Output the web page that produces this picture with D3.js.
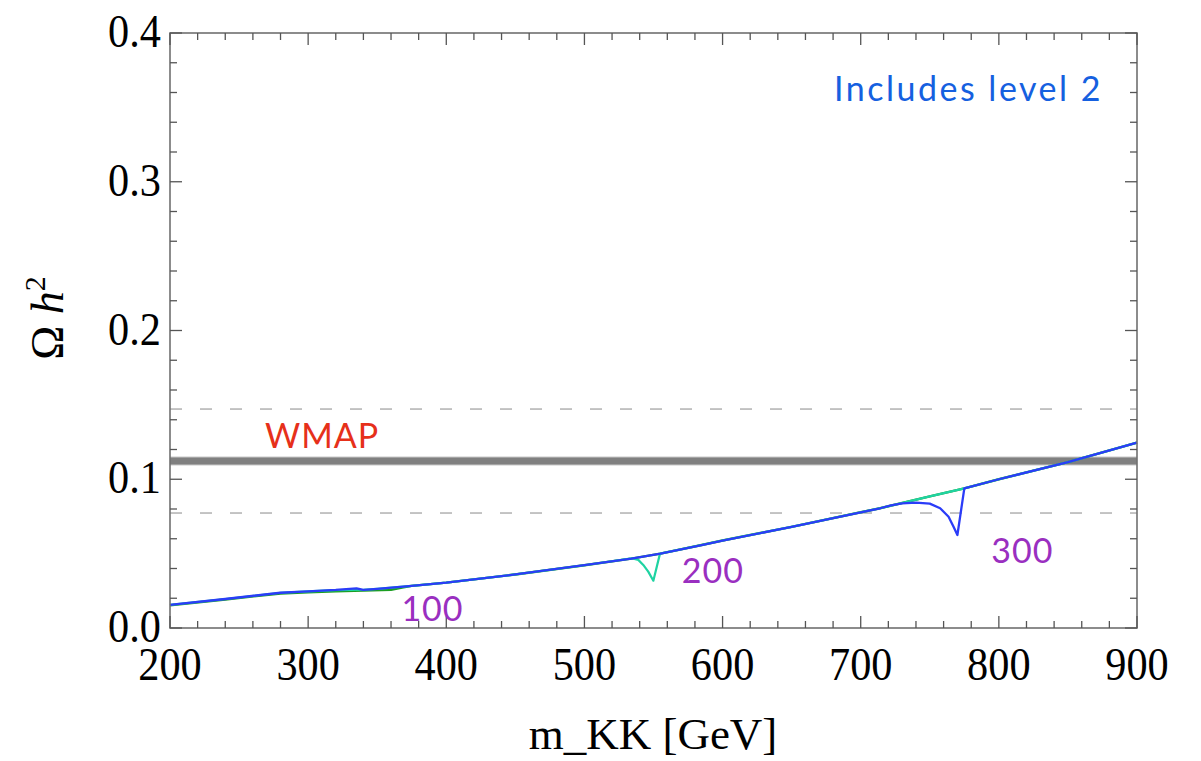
<!DOCTYPE html>
<html><head><meta charset="utf-8">
<script src="https://cdn.jsdelivr.net/npm/d3@7"></script>
<style>body{margin:0;background:#fff}</style>
</head><body><svg id="c" width="1201" height="761"></svg>
<script>
// ---- data ----
const xTicks = [200, 300, 400, 500, 600, 700, 800, 900];
const xTickLabels = ["200", "300", "400", "500", "600", "700", "800", "900"];
const yTicks = [0.0, 0.1, 0.2, 0.3, 0.4];
const yTickLabels = ["0.0", "0.1", "0.2", "0.3", "0.4"];

const wmapCentral = 0.1123;
const wmapLow = 0.0773;
const wmapHigh = 0.1472;

// curve labelled "100" (green)
const greenX = [200, 240, 280, 300, 320, 340, 360, 368, 375, 400, 450, 500, 534, 555, 584, 600, 650, 700, 714, 750, 775, 800, 850, 900];
const greenY = [0.0152, 0.0192, 0.0232, 0.0240, 0.0247, 0.0251, 0.0257, 0.0272, 0.0283, 0.0305, 0.0360, 0.0422, 0.0466, 0.0500, 0.0556, 0.0588, 0.0680, 0.0778, 0.0805, 0.0885, 0.0939, 0.1000, 0.1115, 0.1246];

// curve labelled "200" (teal)
const tealX = [200, 240, 280, 300, 320, 340, 350, 375, 400, 450, 500, 534, 539, 542.6, 546.2, 549.9, 554.7, 584, 600, 650, 700, 714, 750, 775, 800, 850, 900];
const tealY = [0.0155, 0.0195, 0.0237, 0.0246, 0.0254, 0.0257, 0.0263, 0.0283, 0.0305, 0.0360, 0.0422, 0.0469, 0.0458, 0.0424, 0.0379, 0.0318, 0.0500, 0.0556, 0.0588, 0.0680, 0.0778, 0.0805, 0.0885, 0.0939, 0.1000, 0.1115, 0.1246];

// curve labelled "300" (blue)
const blueX = [200, 240, 280, 300, 320, 335, 340, 350, 375, 400, 450, 500, 534, 555, 584, 600, 650, 700, 714, 722, 730, 740, 750, 757.5, 763.6, 767.2, 770, 775, 800, 850, 900];
const blueY = [0.0155, 0.0195, 0.0237, 0.0246, 0.0256, 0.0267, 0.0256, 0.0263, 0.0283, 0.0305, 0.0360, 0.0422, 0.0466, 0.0500, 0.0556, 0.0588, 0.0680, 0.0778, 0.0805, 0.0825, 0.0838, 0.0843, 0.0836, 0.0805, 0.0748, 0.0681, 0.0625, 0.0939, 0.1000, 0.1115, 0.1246];

const curveLabels = ["100", "200", "300"];

// ---- layout ----
const svg = d3.select("#c");
const L = 170, R = 1137, T = 33, B = 628;
const x = d3.scaleLinear().domain([200, 900]).range([L, R]);
const y = d3.scaleLinear().domain([0, 0.4]).range([B, T]);
const serif = "'Liberation Serif','Times New Roman',serif";
const comic = "'Comic Sans MS','Lato','Open Sans',sans-serif";

function txt(g, px, py, s, opts) {
  const sx = opts.sx || 1;
  const t = g.append("text")
    .attr("transform", `translate(${px},${py}) scale(${sx},1)`)
    .attr("font-family", opts.font || serif)
    .attr("font-size", opts.size)
    .attr("fill", opts.fill || "#000")
    .attr("text-anchor", opts.anchor || "start");
  if (opts.ls) t.attr("letter-spacing", opts.ls);
  t.text(s);
  return t;
}

// WMAP band and dashed limits
const band = svg.append("g");
band.append("line").attr("x1", L).attr("x2", R).attr("y1", y(wmapCentral)).attr("y2", y(wmapCentral))
  .attr("stroke", "#c8c8c8").attr("stroke-width", 9);
band.append("line").attr("x1", L).attr("x2", R).attr("y1", y(wmapCentral)).attr("y2", y(wmapCentral))
  .attr("stroke", "#808080").attr("stroke-width", 7);
[wmapLow, wmapHigh].forEach(v => {
  band.append("line").attr("x1", L).attr("x2", R).attr("y1", y(v)).attr("y2", y(v))
    .attr("stroke", "#8a8a8a").attr("stroke-width", 1).attr("stroke-dasharray", "12,18");
});

// curves
const line = d3.line().x(d => x(d[0])).y(d => y(d[1]));
const curves = [
  {xs: greenX, ys: greenY, color: "#1c9e22", w: 2.4},
  {xs: tealX, ys: tealY, color: "#1fd3a2", w: 2.2},
  {xs: blueX, ys: blueY, color: "#2b3cf8", w: 2.3}
];
curves.forEach(c => {
  svg.append("path").datum(c.xs.map((v, i) => [v, c.ys[i]]))
    .attr("d", line).attr("fill", "none").attr("stroke", c.color)
    .attr("stroke-width", c.w).attr("stroke-linejoin", "round");
});

// frame
svg.append("rect").attr("x", L).attr("y", T).attr("width", R - L).attr("height", B - T)
  .attr("fill", "none").attr("stroke", "#707070").attr("stroke-width", 1.6);

// ticks (inward, on all four sides)
const tk = svg.append("g").attr("stroke", "#555").attr("stroke-width", 1.3);
const xMinor = d3.range(200, 901, 20);
xMinor.forEach(v => {
  const major = xTicks.includes(v);
  const len = major ? 12 : 7;
  tk.append("line").attr("x1", x(v)).attr("x2", x(v)).attr("y1", B).attr("y2", B - len);
  tk.append("line").attr("x1", x(v)).attr("x2", x(v)).attr("y1", T).attr("y2", T + len);
});
const yMinor = d3.range(0, 0.4001, 0.02);
yMinor.forEach(v => {
  const major = yTicks.some(t => Math.abs(t - v) < 1e-6);
  const len = major ? 12 : 7;
  tk.append("line").attr("x1", L).attr("x2", L + len).attr("y1", y(v)).attr("y2", y(v));
  tk.append("line").attr("x1", R).attr("x2", R - len).attr("y1", y(v)).attr("y2", y(v));
});

// tick labels
xTicks.forEach((v, i) => txt(svg, x(v), 680, xTickLabels[i], {size: 46, anchor: "middle", sx: 0.92}));
yTicks.forEach((v, i) => txt(svg, 161, y(v) + 14, yTickLabels[i], {size: 46, anchor: "end", sx: 0.92}));

// axis titles
txt(svg, 653, 749, "m_KK [GeV]", {size: 45, anchor: "middle"});
const yl = svg.append("text")
  .attr("transform", `translate(63,318) rotate(-90)`)
  .attr("font-family", serif).attr("font-size", 46).attr("text-anchor", "middle");
yl.append("tspan").text("Ω ");
yl.append("tspan").attr("font-style", "italic").text("h");
yl.append("tspan").attr("font-size", 30).attr("dy", -18).text("2");

// annotations
txt(svg, 834, 101, "Includes level 2", {font: comic, size: 34, fill: "#1560e0", ls: 2.5});
txt(svg, 265, 448, "WMAP", {font: comic, size: 34, fill: "#e6301a", ls: 1});
const labelPos = [[390, 0.0045], [593, 0.030], [817, 0.044]];
curveLabels.forEach((s, i) => txt(svg, x(labelPos[i][0]), y(labelPos[i][1]), s, {font: comic, size: 34, fill: "#9a2fc0", anchor: "middle", ls: 1}));
</script>
</body></html>
